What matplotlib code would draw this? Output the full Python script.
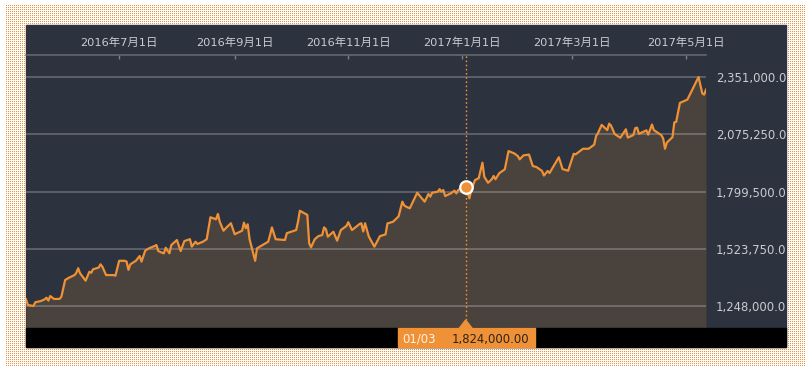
import numpy as np
import matplotlib
matplotlib.use("Agg")
from matplotlib import pyplot as plt
from matplotlib import transforms
from matplotlib.patches import Rectangle, Polygon
import matplotlib.dates as mdates
from datetime import datetime

# DejaVu for the (wide) digits, Noto CJK picks up 年/月/日
plt.rcParams['font.family'] = ['DejaVu Sans', 'Noto Sans CJK JP']

# price series
dates = [
    '2016-05-12', '2016-05-13', '2016-05-16', '2016-05-17', '2016-05-20', '2016-05-22',
    '2016-05-23', '2016-05-24', '2016-05-25', '2016-05-27', '2016-05-30', '2016-05-31',
    '2016-06-02', '2016-06-04', '2016-06-07', '2016-06-08', '2016-06-09', '2016-06-10',
    '2016-06-13', '2016-06-15', '2016-06-16', '2016-06-17', '2016-06-19', '2016-06-20',
    '2016-06-21', '2016-06-22', '2016-06-24', '2016-06-28', '2016-06-29', '2016-07-01',
    '2016-07-04', '2016-07-05', '2016-07-06', '2016-07-07', '2016-07-10', '2016-07-12',
    '2016-07-13', '2016-07-15', '2016-07-17', '2016-07-20', '2016-07-21', '2016-07-22',
    '2016-07-24', '2016-07-25', '2016-07-26', '2016-07-27', '2016-07-28', '2016-07-29',
    '2016-08-01', '2016-08-03', '2016-08-05', '2016-08-08', '2016-08-09', '2016-08-11',
    '2016-08-12', '2016-08-15', '2016-08-17', '2016-08-19', '2016-08-22', '2016-08-23',
    '2016-08-24', '2016-08-26', '2016-08-28', '2016-08-30', '2016-09-01', '2016-09-05',
    '2016-09-06', '2016-09-07', '2016-09-08', '2016-09-09', '2016-09-12', '2016-09-13',
    '2016-09-19', '2016-09-20', '2016-09-21', '2016-09-23', '2016-09-28', '2016-09-29',
    '2016-10-04', '2016-10-05', '2016-10-06', '2016-10-10', '2016-10-11', '2016-10-12',
    '2016-10-14', '2016-10-16', '2016-10-18', '2016-10-19', '2016-10-20', '2016-10-21',
    '2016-10-24', '2016-10-26', '2016-10-28', '2016-10-31', '2016-11-01', '2016-11-03',
    '2016-11-07', '2016-11-08', '2016-11-09', '2016-11-10', '2016-11-12', '2016-11-15',
    '2016-11-18', '2016-11-21', '2016-11-22', '2016-11-25', '2016-11-28', '2016-11-30',
    '2016-12-01', '2016-12-02', '2016-12-04', '2016-12-08', '2016-12-10', '2016-12-12',
    '2016-12-14', '2016-12-15', '2016-12-16', '2016-12-19', '2016-12-20', '2016-12-21',
    '2016-12-22', '2016-12-23', '2016-12-26', '2016-12-28', '2016-12-29', '2016-12-30',
    '2017-01-03', '2017-01-05', '2017-01-06', '2017-01-08', '2017-01-10', '2017-01-12',
    '2017-01-13', '2017-01-15', '2017-01-17', '2017-01-18', '2017-01-19', '2017-01-21',
    '2017-01-24', '2017-01-26', '2017-01-29', '2017-01-31', '2017-02-01', '2017-02-03',
    '2017-02-06', '2017-02-08', '2017-02-10', '2017-02-13', '2017-02-14', '2017-02-16',
    '2017-02-17', '2017-02-22', '2017-02-24', '2017-02-27', '2017-03-02', '2017-03-03',
    '2017-03-07', '2017-03-10', '2017-03-13', '2017-03-14', '2017-03-15', '2017-03-17',
    '2017-03-20', '2017-03-21', '2017-03-22', '2017-03-24', '2017-03-27', '2017-03-30',
    '2017-03-31', '2017-04-03', '2017-04-04', '2017-04-05', '2017-04-06', '2017-04-10',
    '2017-04-11', '2017-04-13', '2017-04-14', '2017-04-18', '2017-04-19', '2017-04-20',
    '2017-04-21', '2017-04-24', '2017-04-25', '2017-04-26', '2017-04-28', '2017-05-02',
    '2017-05-08', '2017-05-10', '2017-05-11', '2017-05-12',
]
values = [
    1280000, 1253000, 1248000, 1266000, 1272000, 1280000,
    1288000, 1274000, 1296000, 1282000, 1282000, 1293000,
    1373000, 1384000, 1397000, 1408000, 1430000, 1406000,
    1370000, 1413000, 1408000, 1425000, 1430000, 1433000,
    1449000, 1437000, 1397000, 1397000, 1394000, 1466000,
    1466000, 1462000, 1422000, 1449000, 1466000, 1489000,
    1462000, 1515000, 1526000, 1537000, 1542000, 1513000,
    1505000, 1502000, 1529000, 1515000, 1502000, 1542000,
    1566000, 1513000, 1561000, 1570000, 1534000, 1558000,
    1547000, 1558000, 1570000, 1676000, 1666000, 1692000,
    1654000, 1611000, 1630000, 1647000, 1594000, 1611000,
    1650000, 1623000, 1642000, 1570000, 1466000, 1526000,
    1558000, 1590000, 1627000, 1570000, 1566000, 1599000,
    1614000, 1654000, 1707000, 1687000, 1550000, 1531000,
    1570000, 1585000, 1590000, 1627000, 1618000, 1582000,
    1606000, 1563000, 1614000, 1634000, 1652000, 1614000,
    1643000, 1647000, 1607000, 1647000, 1583000, 1534000,
    1585000, 1593000, 1646000, 1654000, 1680000, 1751000,
    1733000, 1727000, 1719000, 1794000, 1772000, 1751000,
    1788000, 1775000, 1794000, 1799000, 1811000, 1799000,
    1807000, 1778000, 1791000, 1804000, 1791000, 1807000,
    1824000, 1767000, 1807000, 1855000, 1864000, 1939000,
    1871000, 1842000, 1859000, 1875000, 1859000, 1888000,
    1907000, 1995000, 1984000, 1971000, 1955000, 1974000,
    1978000, 1923000, 1918000, 1899000, 1877000, 1899000,
    1889000, 1965000, 1908000, 1900000, 1982000, 1979000,
    2006000, 2006000, 2026000, 2067000, 2081000, 2121000,
    2096000, 2127000, 2118000, 2077000, 2059000, 2100000,
    2060000, 2072000, 2105000, 2108000, 2078000, 2095000,
    2074000, 2123000, 2096000, 2072000, 2056000, 2006000,
    2036000, 2062000, 2133000, 2136000, 2227000, 2243000,
    2352000, 2273000, 2267000, 2291000,
]

y_levels = [1248000, 1523750, 1799500, 2075250, 2351000]
x_ticks = ['2016-07-01', '2016-09-01', '2016-11-01', '2017-01-01', '2017-03-01', '2017-05-01']

cursor_date = '2017-01-03'
cursor_value = 1824000

ORANGE = '#ef9136'
NAVY = '#2c323e'
LABEL = '#c9ccd1'
W, H = 812, 372

fig = plt.figure(figsize=(W / 100, H / 100), dpi=100)

# dotted orange backdrop
bg = np.ones((H, W, 3))
dots = np.zeros((H, W), dtype=bool)
dots[5:366:2, 6:806:2] = True
bg[dots] = np.array([239, 145, 54]) / 255.0
fig.figimage(bg, xo=0, yo=0, origin='upper', zorder=-10)


def px(x0, y0, w, h):
    # pixel box (top-left origin) -> figure fraction
    return (x0 / W, (H - y0 - h) / H, w / W, h / H)


l, b, w, h = px(26, 25, 760, 322)
panel = Rectangle((l, b), w, h, transform=fig.transFigure, color=NAVY, zorder=-5)
fig.add_artist(panel)
l, b, w, h = px(26, 328, 760, 19)
fig.add_artist(Rectangle((l, b), w, h, transform=fig.transFigure, color='black', zorder=2))

ax = fig.add_axes(px(26, 55, 680, 273))
ax.set_zorder(1)
ax.set_facecolor(NAVY)

x = [datetime.strptime(d, '%Y-%m-%d') for d in dates]
ax.fill_between(x, values, 1000000, color='#4a423d', lw=0, zorder=1)
ax.plot(x, values, color=ORANGE, lw=1.6, zorder=3)

ax.set_xlim(datetime(2016, 5, 12), datetime(2017, 5, 12))
ax.set_ylim(1141900, 2458100)

ax.set_yticks(y_levels)
ax.tick_params(axis='y', length=0, labelleft=False, labelright=False)
ax.grid(axis='y', color='white', alpha=0.28, lw=1.1)

tick_dates = [datetime.strptime(d, '%Y-%m-%d') for d in x_ticks]
ax.xaxis.tick_top()
ax.set_xticks(tick_dates)
ax.set_xticklabels([f'{t.year}年{t.month}月{t.day}日' for t in tick_dates])
ax.tick_params(axis='x', direction='in', length=3, width=1, color='#7d8188',
               labelcolor=LABEL, labelsize=8.2, pad=5)
for side in ['left', 'right', 'bottom']:
    ax.spines[side].set_visible(False)
ax.spines['top'].set_color('#676b72')
ax.spines['top'].set_linewidth(1.1)

# right-hand value labels, clipped at the panel edge
trans = transforms.blended_transform_factory(ax.transAxes, ax.transData)
for lvl in y_levels:
    t = ax.text(690 / 680, lvl, f'{lvl:,.2f}', transform=trans, ha='left',
                va='center_baseline', color=LABEL, fontsize=8.4, clip_on=True)
    t.set_clip_path(panel)

# crosshair at cursor
cd = datetime.strptime(cursor_date, '%Y-%m-%d')
ax.axvline(cd, ymin=8 / 273, ymax=1, color=ORANGE, lw=1, ls=(0, (1.2, 1.8)), zorder=4)
ax.plot(cd, cursor_value, 'o', ms=9, mfc=ORANGE, mec='white', mew=1.6, zorder=6)

cx = ax.transData.transform((mdates.date2num(cd), cursor_value))[0]
l, b, w, h = px(cx - 68, 328, 137, 19)
fig.add_artist(Rectangle((l, b), w, h, transform=fig.transFigure, color=ORANGE, zorder=3))
tri = [((cx - 7) / W, (H - 329) / H), ((cx + 7) / W, (H - 329) / H), (cx / W, (H - 320) / H)]
fig.add_artist(Polygon(tri, closed=True, transform=fig.transFigure, color=ORANGE, zorder=3))
fig.text((cx - 63) / W, (H - 338) / H, cd.strftime('%m/%d'), color='#fff4e8',
         fontsize=8.4, va='center_baseline', ha='left', zorder=4)
fig.text((cx - 14) / W, (H - 338) / H, f'{cursor_value:,.2f}', color='#2e2319',
         fontsize=8.4, va='center_baseline', ha='left', zorder=4)

fig.savefig('out.png', dpi=100)
